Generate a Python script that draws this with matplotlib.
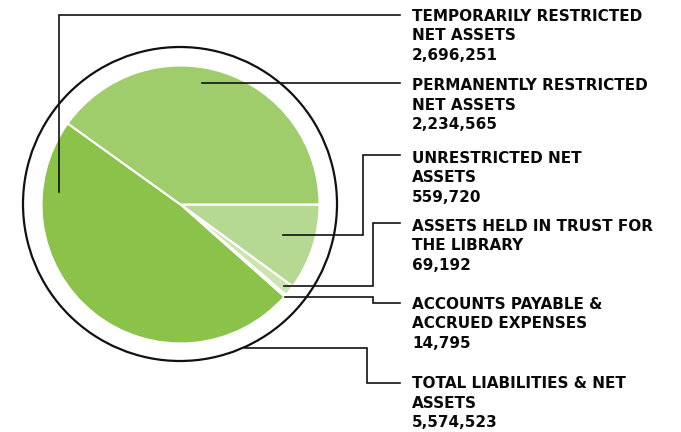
import matplotlib.pyplot as plt
from matplotlib.patches import Circle

# values in pie order (clockwise from 3 o'clock)
slice_names = ["UNRESTRICTED NET ASSETS", "ASSETS HELD IN TRUST FOR THE LIBRARY",
               "ACCOUNTS PAYABLE & ACCRUED EXPENSES", "TEMPORARILY RESTRICTED NET ASSETS",
               "PERMANENTLY RESTRICTED NET ASSETS"]
slice_values = [559720, 69192, 14795, 2696251, 2234565]
slice_colors = ["#b5d993", "#cbe4b0", "#ddeecb", "#8bc34a", "#9fcd6b"]

# label blocks on the right, top to bottom
label_lines = [
    ["TEMPORARILY RESTRICTED", "NET ASSETS", "2,696,251"],
    ["PERMANENTLY RESTRICTED", "NET ASSETS", "2,234,565"],
    ["UNRESTRICTED NET", "ASSETS", "559,720"],
    ["ASSETS HELD IN TRUST FOR", "THE LIBRARY", "69,192"],
    ["ACCOUNTS PAYABLE &", "ACCRUED EXPENSES", "14,795"],
    ["TOTAL LIABILITIES & NET", "ASSETS", "5,574,523"],
]
label_baselines = [20.7, 90, 163, 231, 309, 388]

# leader line paths in pixel coords (y down)
leaders = [
    [(59, 192), (59, 15), (400, 15)],
    [(202, 83), (400, 83)],
    [(283, 234.5), (363, 234.5), (363, 154.5), (400, 154.5)],
    [(284, 286), (373, 286), (373, 222.5), (400, 222.5)],
    [(285, 297), (373, 297), (373, 303), (400, 303)],
    [(245, 347.5), (367, 347.5), (367, 383), (400, 383)],
]

W, H = 681, 432
fig = plt.figure(figsize=(W / 100, H / 100), dpi=100)
ax = fig.add_axes([0, 0, 1, 1])

cx, cy = 180.5, H - 204.5
ax.pie(slice_values, colors=slice_colors, center=(cx, cy), radius=139,
       startangle=0, counterclock=False,
       wedgeprops=dict(edgecolor="white", linewidth=1.5))
ax.add_patch(Circle((180, H - 204), 157, fill=False, edgecolor="#111111", linewidth=1.6))

for path in leaders:
    xs = [p[0] for p in path]
    ys = [H - p[1] for p in path]
    ax.plot(xs, ys, color="#111111", linewidth=1.2, solid_joinstyle="miter")

for lines, base in zip(label_lines, label_baselines):
    for i, txt in enumerate(lines):
        ax.text(412, H - (base + i * 19.5), txt, fontsize=11, fontweight="bold",
                family="DejaVu Sans", color="#0a0a0a", va="baseline", ha="left")

ax.set_xlim(0, W)
ax.set_ylim(0, H)
ax.set_aspect("equal")
ax.axis("off")

fig.savefig("out.png", dpi=100)
